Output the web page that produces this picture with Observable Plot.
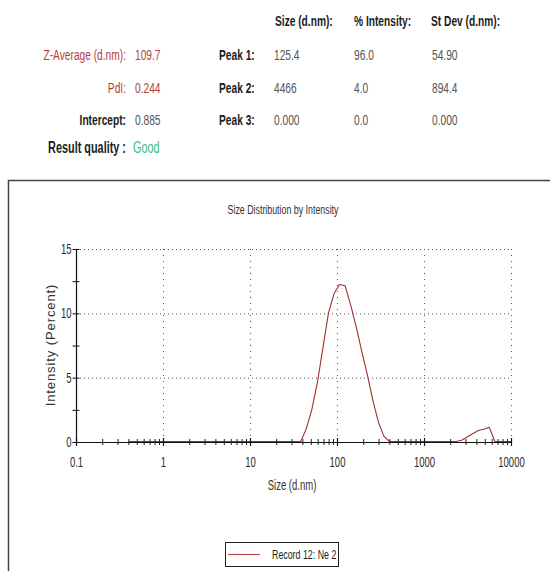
<!DOCTYPE html>
<html><head><meta charset="utf-8">
<script src="https://cdn.jsdelivr.net/npm/d3@7"></script>
<script src="https://cdn.jsdelivr.net/npm/@observablehq/plot@0.6"></script>
<style>
html,body{margin:0;padding:0;background:#fff;}
#page{position:relative;width:550px;height:571px;overflow:hidden;background:#fff;}
#chart{position:absolute;left:0;top:180px;}
#overlay{position:absolute;left:0;top:0;pointer-events:none;}
</style></head>
<body><div id="page"><div id="chart"></div><svg id="overlay" width="550" height="571"></svg></div>
<script>
// ---- data ----
const sizes = [0.4,0.4632,0.5365,0.6213,0.7195,0.8332,0.9649,1.117,1.294,1.499,
  1.736,2.010,2.328,2.696,3.122,3.615,4.187,4.849,5.615,6.503,
  7.531,8.721,10.10,11.70,13.54,15.69,18.17,21.04,24.36,28.21,
  32.67,37.84,43.82,50.75,58.77,68.06,78.82,91.28,105.7,122.4,
  141.8,164.2,190.1,220.2,255.0,295.3,342.0,396.1,458.7,531.2,
  615.1,712.4,825.0,955.4,1106,1281,1484,1718,1990,2305,
  2669,3091,3580,4145,4801,5560,6439,7456,8635,10000];
const intensities = [0,0,0,0,0,0,0,0,0,0,
  0,0,0,0,0,0,0,0,0,0,
  0,0,0,0,0,0,0,0,0,0,
  0,0,1.0,2.5,4.6,7.3,10.0,11.5,12.2,12.1,
  10.6,8.9,7.0,5.2,3.2,1.5,0.4,0,0,0,
  0,0,0,0,0,0,0,0,0,0,
  0.1,0.35,0.6,0.85,0.95,1.1,0,0,0,0];
const xTickValues = [0.1,1,10,100,1000,10000];
const xTickLabels = ["0.1","1","10","100","1000","10000"];
const yTickValues = [0,5,10,15];
const yMinorTickValues = [2.5,7.5,12.5];
const headerLabels = ["Size (d.nm):","% Intensity:","St Dev (d.nm):"];
const peakLabels = ["Peak 1:","Peak 2:","Peak 3:"];
const peakSizes = ["125.4","4466","0.000"];
const peakIntensities = ["96.0","4.0","0.0"];
const peakStDevs = ["54.90","894.4","0.000"];
const summaryLabels = ["Z-Average (d.nm):","PdI:","Intercept:"];
const summaryValues = ["109.7","0.244","0.885"];
const qualityLabel = "Result quality :";
const qualityValue = "Good";
const chartTitle = "Size Distribution by Intensity";
const xLabel = "Size (d.nm)";
const yLabel = "Intensity (Percent)";
const legendLabel = "Record 12: Ne 2";

const SX = 0.68; // horizontal squeeze of the reference text
const FONT = "'Liberation Sans', Arial, Helvetica, sans-serif";

// ---- chart ----
const data = sizes.map((s, i) => ({size: s, intensity: intensities[i]}));
const minorX = [0.1,1,10,100,1000].flatMap(d => [2,3,4,5,6,7,8,9].map(k => +(d*k).toPrecision(3)));
const yAllTicks = yTickValues.concat(yMinorTickValues);

const chart = Plot.plot({
  width: 550, height: 391,
  marginLeft: 76, marginRight: 39, marginTop: 69, marginBottom: 129,
  x: {type: "log", domain: [0.1, 10000]},
  y: {domain: [0, 15]},
  style: {fontFamily: FONT, fontSize: "14px", color: "#2a2a2a", background: "transparent", overflow: "visible"},
  marks: [
    Plot.ruleY(yTickValues.slice(1), {x1: 0.1, x2: 10000, stroke: "#555", strokeWidth: 1, strokeDasharray: "1,3"}),
    Plot.ruleX(xTickValues.slice(1), {y1: 0, y2: 15, stroke: "#555", strokeWidth: 1, strokeDasharray: "1,5"}),
    Plot.line(data, {x: "size", y: "intensity", stroke: "#a0302e", strokeWidth: 1.1, dy: -1}),
    Plot.ruleY([0], {x1: 0.1, x2: 10000, stroke: "#111", strokeWidth: 1.2}),
    Plot.ruleX([0.1], {y1: 0, y2: 15, stroke: "#111", strokeWidth: 1.2}),
    Plot.ruleX(minorX, {y1: 0, y2: 0, insetTop: -3, insetBottom: -3, stroke: "#222", strokeWidth: 1}),
    Plot.ruleX(xTickValues, {y1: 0, y2: 0, insetTop: -4, insetBottom: -4, stroke: "#111", strokeWidth: 1.2}),
    Plot.ruleY(yAllTicks, {x1: 0.1, x2: 0.1, insetLeft: -3.5, insetRight: -3.5, stroke: "#111", strokeWidth: 1}),
    Plot.axisX({ticks: xTickValues, tickFormat: d => xTickLabels[xTickValues.indexOf(d)], tickSize: 0, tickPadding: 15, label: null, fontSize: 14}),
    Plot.axisY({ticks: yTickValues, tickSize: 0, tickPadding: 5, label: null, fontSize: 14})
  ]
});
d3.select(chart).selectAll("text").each(function() {
  const t = this.getAttribute("transform");
  if (t) this.setAttribute("transform", t + ` scale(${SX},1)`);
  else {
    const x = +(this.getAttribute("x") || 0), y = +(this.getAttribute("y") || 0);
    this.removeAttribute("x"); this.removeAttribute("y");
    this.setAttribute("transform", `translate(${x},${y}) scale(${SX},1)`);
  }
});
document.getElementById("chart").appendChild(chart);

// ---- overlay: table, frame, titles, legend ----
const ov = d3.select("#overlay");
function txt(x, y, s, o = {}) {
  const {size = 15, weight = 400, fill = "#222", anchor = "start"} = o;
  return ov.append("text")
    .attr("transform", `translate(${x},${y}) scale(${SX},1)`)
    .attr("text-anchor", anchor)
    .attr("font-family", FONT)
    .attr("font-size", size)
    .attr("font-weight", weight)
    .attr("fill", fill)
    .text(s);
}
const RED = "#b5403c", GRAY = "#555", DARK = "#1c1c1c", GREEN = "#3dbd82";
const colX = [275, 354, 431];
headerLabels.forEach((h, i) => txt(colX[i], 26, h, {weight: 700, fill: DARK}));
const rowY = [60, 93, 125];
summaryLabels.forEach((l, i) => {
  const isRed = i < 2;
  txt(126, rowY[i], l, {anchor: "end", fill: isRed ? RED : DARK, weight: isRed ? 400 : 700});
  txt(135, rowY[i], summaryValues[i], {fill: isRed ? RED : GRAY});
  txt(219, rowY[i], peakLabels[i], {weight: 700, fill: DARK});
  txt(274, rowY[i], peakSizes[i], {fill: GRAY});
  txt(354, rowY[i], peakIntensities[i], {fill: GRAY});
  txt(432, rowY[i], peakStDevs[i], {fill: GRAY});
});
txt(126, 153, qualityLabel, {anchor: "end", size: 16, weight: 700, fill: DARK});
txt(133, 153, qualityValue, {size: 16, fill: GREEN});

// frame
ov.append("path").attr("d", "M8.5,600V180.5H560").attr("fill", "none").attr("stroke", "#444").attr("stroke-width", 1.5);
// titles
txt(283, 214, chartTitle, {size: 13, anchor: "middle", fill: "#333"});
txt(292, 490, xLabel, {size: 14, anchor: "middle", fill: "#333"});
ov.append("text")
  .attr("transform", `translate(50,345) rotate(-90)`)
  .attr("text-anchor", "middle").attr("dy", "0.35em")
  .attr("font-family", FONT).attr("font-size", 13).attr("letter-spacing", "0.9px").attr("fill", "#333")
  .text(yLabel);
// legend
ov.append("rect").attr("x", 225.5).attr("y", 542.5).attr("width", 113).attr("height", 24)
  .attr("fill", "none").attr("stroke", "#222").attr("stroke-width", 1);
ov.append("line").attr("x1", 228).attr("x2", 260).attr("y1", 554.5).attr("y2", 554.5)
  .attr("stroke", "#c04848").attr("stroke-width", 1.2);
txt(272, 559, legendLabel, {size: 13, fill: "#222"});
</script></body></html>
